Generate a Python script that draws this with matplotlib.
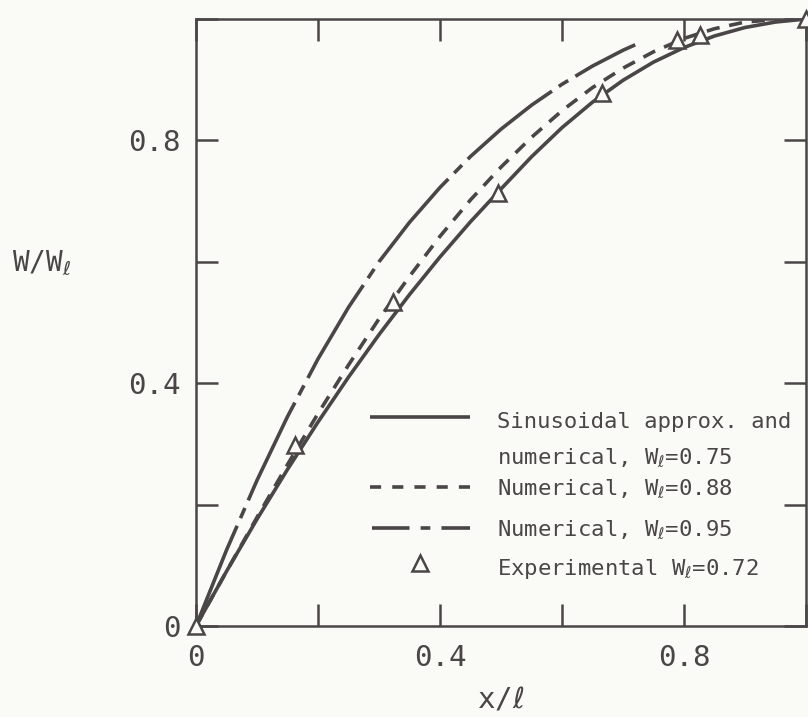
import matplotlib
matplotlib.use("Agg")
import matplotlib.pyplot as plt

# Normalised deflection profiles W/W_l against x/l
x_vals = [0.0, 0.05, 0.1, 0.15, 0.2, 0.25, 0.3, 0.35, 0.4, 0.45, 0.5,
          0.55, 0.6, 0.65, 0.7, 0.75, 0.8, 0.85, 0.9, 0.95, 1.0]
w_075 = [0.0, 0.09, 0.176, 0.258, 0.336, 0.41, 0.48, 0.546, 0.608, 0.666, 0.72,
         0.773, 0.821, 0.863, 0.899, 0.929, 0.953, 0.972, 0.986, 0.995, 1.0]
w_088 = [0.0, 0.09, 0.179, 0.266, 0.35, 0.43, 0.506, 0.576, 0.642, 0.702, 0.756,
         0.805, 0.849, 0.887, 0.919, 0.946, 0.968, 0.984, 0.995, 0.999, 1.0]

x_095 = [0.0, 0.05, 0.1, 0.15, 0.2, 0.25, 0.3, 0.35, 0.4, 0.45, 0.5,
         0.55, 0.6, 0.65, 0.7, 0.72]
w_095 = [0.0, 0.125, 0.24, 0.345, 0.44, 0.525, 0.60, 0.665, 0.7225, 0.7735, 0.8185,
         0.858, 0.8925, 0.9225, 0.9485, 0.9575]

# Experimental points, W_l = 0.72
x_exp = [0.0, 0.162, 0.323, 0.495, 0.666, 0.788, 0.826, 1.0]
w_exp = [0.0, 0.298, 0.534, 0.713, 0.878, 0.965, 0.974, 1.0]

tick_vals = [0.0, 0.2, 0.4, 0.6, 0.8, 1.0]
tick_labels = ["0", "", "0.4", "", "0.8", ""]

legend_lines = ["Sinusoidal approx. and",
                r"numerical, W$_\ell$=0.75",
                r"Numerical, W$_\ell$=0.88",
                r"Numerical, W$_\ell$=0.95",
                r"Experimental W$_\ell$=0.72"]

ink = "#4a4546"
paper = "#fafbf6"

plt.rcParams["font.family"] = ["DejaVu Sans Mono", "DejaVu Sans"]
plt.rcParams["mathtext.fontset"] = "dejavusans"
plt.rcParams["lines.scale_dashes"] = False

fig = plt.figure(figsize=(8.08, 7.17), dpi=100, facecolor=paper)
ax = fig.add_axes([196 / 808, 91 / 717, 610 / 808, 607 / 717])
ax.set_facecolor(paper)

lw = 2.6
solid_style = "-"
dash_style = (0, (9.5, 7))
dashdot_style = (0, (78, 6, 8, 6))

ax.plot(x_vals, w_075, color=ink, lw=lw, ls=solid_style, solid_capstyle="butt")
ax.plot(x_vals, w_088, color=ink, lw=lw, ls=dash_style, dash_capstyle="butt")
ax.plot(x_095, w_095, color=ink, lw=lw, ls=dashdot_style, dash_capstyle="butt")
ax.plot(x_exp, w_exp, ls="none", marker="^", ms=12, mfc=paper, mec=ink,
        mew=1.8, clip_on=False, zorder=5)

ax.set_xlim(0, 1)
ax.set_ylim(0, 1)
ax.set_xticks(tick_vals)
ax.set_xticklabels(tick_labels)
ax.set_yticks(tick_vals)
ax.set_yticklabels(tick_labels)
ax.tick_params(direction="in", length=16, width=1.8, color=ink,
               top=True, right=True, labelsize=21, labelcolor=ink)
ax.tick_params(axis="x", pad=13)
ax.tick_params(axis="y", pad=11)
for s in ax.spines.values():
    s.set_linewidth(1.8)
    s.set_color(ink)

ax.set_xlabel(r"x/$\ell$", fontsize=21, color=ink, labelpad=10)
fig.text(12 / 808, 1 - 263 / 717, r"W/W$_\ell$", fontsize=20, color=ink,
         ha="left", va="center")

# Legend drawn inside the axes
txt_x = 0.493
baselines = [0.326, 0.2685, 0.216, 0.150, 0.084]
for label, yb in zip(legend_lines, baselines):
    ax.text(txt_x, yb, label, fontsize=16, color=ink, ha="left", va="baseline")

ax.plot([0.285, 0.449], [0.344, 0.344], color=ink, lw=lw, ls=solid_style,
        solid_capstyle="butt")
ax.plot([0.285, 0.449], [0.229, 0.229], color=ink, lw=lw, ls=(0, (8, 8)),
        dash_capstyle="butt")
ax.plot([0.288, 0.449], [0.161, 0.161], color=ink, lw=lw, ls=(0, (27, 8, 7, 8)),
        dash_capstyle="butt")
ax.plot([0.367], [0.104], ls="none", marker="^", ms=12, mfc=paper, mec=ink,
        mew=1.8)

fig.savefig("out.png", dpi=100, facecolor=paper)
